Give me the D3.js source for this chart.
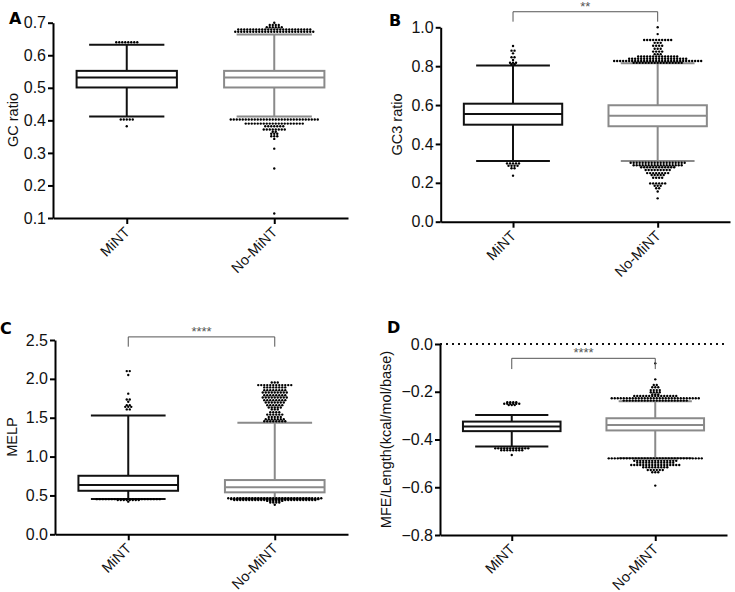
<!DOCTYPE html>
<html>
<head>
<meta charset="utf-8">
<script src="https://cdn.jsdelivr.net/npm/d3@7"></script>
<style>
  html, body { margin: 0; padding: 0; background: #fff; }
  svg text { font-family: "Liberation Sans", Arial, Helvetica, sans-serif; }
  svg text.letter { font-family: "DejaVu Sans", sans-serif; font-weight: 900; }
</style>
</head>
<body>
<svg id="chart" width="735" height="592"></svg>
<script>
// ---------------- DATA ----------------
const groups = ["MiNT", "No-MiNT"];
const panelLetters = ["A", "B", "C", "D"];
const yTitles = ["GC ratio", "GC3 ratio", "MELP", "MFE/Length(kcal/mol/base)"];

const ticksA = [0.1, 0.2, 0.3, 0.4, 0.5, 0.6, 0.7];
const ticksB = [0.0, 0.2, 0.4, 0.6, 0.8, 1.0];
const ticksC = [0.0, 0.5, 1.0, 1.5, 2.0, 2.5];
const ticksD = [-0.8, -0.6, -0.4, -0.2, 0.0];

// box stats: [lower whisker, Q1, median, Q3, upper whisker]
const boxA_MiNT   = [0.412, 0.501, 0.532, 0.552, 0.632];
const boxA_NoMiNT = [0.412, 0.501, 0.532, 0.552, 0.664];
const boxB_MiNT   = [0.312, 0.499, 0.554, 0.607, 0.803];
const boxB_NoMiNT = [0.312, 0.491, 0.545, 0.599, 0.815];
const boxC_MiNT   = [0.454, 0.560, 0.634, 0.753, 1.530];
const boxC_NoMiNT = [0.465, 0.540, 0.604, 0.698, 1.435];
const boxD_MiNT   = [-0.429, -0.365, -0.346, -0.325, -0.297];
const boxD_NoMiNT = [-0.478, -0.362, -0.339, -0.311, -0.240];

// outliers: [value, number of dots at that value]
const outA_MiNT = [[0.640, 8], [0.4025, 5], [0.382, 1]];
const outA_NoMiNT = [[0.700, 1], [0.693, 4], [0.686, 6], [0.679, 25], [0.672, 27],
  [0.4025, 30], [0.390, 20], [0.382, 7], [0.372, 8], [0.365, 2], [0.359, 3], [0.351, 3],
  [0.343, 1], [0.313, 1], [0.252, 1], [0.114, 1]];
const outB_MiNT = [[0.904, 1], [0.880, 2], [0.866, 1], [0.846, 2], [0.832, 1], [0.818, 3], [0.810, 2],
  [0.300, 5], [0.288, 4], [0.275, 2], [0.237, 1]];
const outB_NoMiNT = [[1.000, 1], [0.965, 1], [0.935, 10], [0.920, 3], [0.905, 4], [0.890, 3],
  [0.875, 4], [0.862, 3], [0.850, 14], [0.838, 20], [0.827, 30], [0.818, 17],
  [0.303, 19], [0.290, 17], [0.280, 12], [0.266, 9], [0.250, 8], [0.240, 5], [0.226, 4],
  [0.197, 6], [0.185, 3], [0.172, 2], [0.155, 1], [0.120, 1]];
const outC_MiNT = [[2.100, 2], [2.050, 1], [1.810, 1], [1.735, 2], [1.705, 1], [1.662, 2],
  [1.640, 3], [1.607, 2], [0.452, 22], [0.440, 8], [0.420, 1]];
const outC_NoMiNT = [[1.954, 3], [1.920, 12], [1.890, 8], [1.855, 8], [1.825, 9], [1.790, 8],
  [1.760, 9], [1.726, 8], [1.696, 7], [1.662, 6], [1.632, 5], [1.607, 3], [1.570, 4],
  [1.540, 6], [1.510, 5], [1.480, 7], [1.455, 8],
  [0.463, 32], [0.452, 30], [0.441, 28], [0.430, 6], [0.410, 4], [0.380, 1]];
const outD_MiNT = [[-0.244, 4], [-0.250, 6], [-0.256, 3], [-0.437, 12], [-0.445, 8], [-0.465, 1]];
const outD_NoMiNT = [[-0.081, 1], [-0.148, 1], [-0.172, 2], [-0.181, 3], [-0.193, 4], [-0.202, 4],
  [-0.211, 3], [-0.218, 15], [-0.227, 30], [-0.237, 22],
  [-0.479, 32], [-0.489, 15], [-0.497, 13], [-0.507, 17], [-0.516, 9], [-0.528, 6],
  [-0.537, 3], [-0.593, 1]];

// significance brackets: [bar value, tick-end value, label]  (null = none)
const sigA = null;
const sigB = [1.080, 1.029, "**"];
const sigC = [2.540, 2.414, "****"];
const sigD = [-0.060, -0.105, "****"];

// ---------------- LAYOUT ----------------
const panels = [
  { ticks: ticksA, fmt: ".1f", boxes: [boxA_MiNT, boxA_NoMiNT], outs: [outA_MiNT, outA_NoMiNT], sig: sigA,
    rect: { l: 53, r: 348, t: 22.7, b: 218 }, letter: [9, 24], title: [18, 120], refLine: null },
  { ticks: ticksB, fmt: ".1f", boxes: [boxB_MiNT, boxB_NoMiNT], outs: [outB_MiNT, outB_NoMiNT], sig: sigB,
    rect: { l: 440.7, r: 730, t: 27.3, b: 221.7 }, letter: [389, 26], title: [402, 124.5], refLine: null },
  { ticks: ticksC, fmt: ".1f", boxes: [boxC_MiNT, boxC_NoMiNT], outs: [outC_MiNT, outC_NoMiNT], sig: sigC,
    rect: { l: 55, r: 348, t: 340, b: 534.3 }, letter: [0, 334], title: [17, 437], refLine: null },
  { ticks: ticksD, fmt: ".1f", boxes: [boxD_MiNT, boxD_NoMiNT], outs: [outD_MiNT, outD_NoMiNT], sig: sigD,
    rect: { l: 440, r: 727, t: 344, b: 535 }, letter: [387, 333], title: [391, 439.5], refLine: 0 }
];
const colors = ["#111111", "#8a8a8a"];

const svg = d3.select("#chart");

panels.forEach((p, pi) => {
  const R = p.rect;
  const g = svg.append("g");
  const y = d3.scaleLinear().domain(d3.extent(p.ticks)).range([R.b, R.t]);
  const x = d3.scalePoint().domain(groups).range([R.l, R.r]).padding(0.5);
  const bw = (R.r - R.l) * 0.34;
  const cw = bw * 0.75;
  const dotStep = 3;

  if (p.refLine !== null) {
    g.append("line")
      .attr("x1", R.l).attr("x2", R.r)
      .attr("y1", y(p.refLine)).attr("y2", y(p.refLine))
      .attr("stroke", "#111").attr("stroke-width", 2)
      .attr("stroke-dasharray", "2,4");
  }

  groups.forEach((grp, gi) => {
    const s = p.boxes[gi];
    const cx = x(grp);
    const c = colors[gi];
    const bg = g.append("g").attr("stroke", c).attr("stroke-width", 2).attr("fill", "none");
    bg.append("line").attr("x1", cx).attr("x2", cx).attr("y1", y(s[0])).attr("y2", y(s[1]));
    bg.append("line").attr("x1", cx).attr("x2", cx).attr("y1", y(s[3])).attr("y2", y(s[4]));
    bg.append("line").attr("x1", cx - cw / 2).attr("x2", cx + cw / 2).attr("y1", y(s[0])).attr("y2", y(s[0]));
    bg.append("line").attr("x1", cx - cw / 2).attr("x2", cx + cw / 2).attr("y1", y(s[4])).attr("y2", y(s[4]));
    bg.append("rect").attr("x", cx - bw / 2).attr("width", bw)
      .attr("y", y(s[3])).attr("height", y(s[1]) - y(s[3])).attr("fill", "#fff");
    bg.append("line").attr("x1", cx - bw / 2).attr("x2", cx + bw / 2).attr("y1", y(s[2])).attr("y2", y(s[2]));
  });

  groups.forEach((grp, gi) => {
    const cx = x(grp);
    const dots = [];
    p.outs[gi].forEach(([v, n]) => {
      for (let i = 0; i < n; i++) dots.push({ x: cx + (i - (n - 1) / 2) * dotStep, v });
    });
    g.append("g").selectAll("circle").data(dots).join("circle")
      .attr("cx", d => d.x).attr("cy", d => y(d.v)).attr("r", 1.2).attr("fill", "#000");
  });

  const ya = g.append("g").attr("transform", `translate(${R.l},0)`)
    .call(d3.axisLeft(y).tickValues(p.ticks).tickFormat(d3.format(p.fmt)).tickSize(5).tickSizeOuter(0).tickPadding(2));
  ya.attr("font-family", null);
  ya.select(".domain").attr("stroke", "#000").attr("stroke-width", 2);
  ya.selectAll(".tick line").attr("stroke", "#000").attr("stroke-width", 2);
  ya.selectAll(".tick text").attr("font-size", 16).attr("fill", "#111");

  const xa = g.append("g").attr("transform", `translate(0,${R.b})`)
    .call(d3.axisBottom(x).tickSize(6).tickSizeOuter(0).tickFormat(""));
  xa.select(".domain").attr("stroke", "#000").attr("stroke-width", 2);
  xa.selectAll(".tick line").attr("stroke", "#000").attr("stroke-width", 2);

  groups.forEach(grp => {
    g.append("text")
      .attr("transform", `translate(${x(grp) + 4},${R.b + 15}) rotate(-45)`)
      .attr("text-anchor", "end")
      .attr("font-size", 14.5).attr("fill", "#111").text(grp);
  });

  g.append("text")
    .attr("transform", `translate(${p.title[0]},${p.title[1]}) rotate(-90)`)
    .attr("text-anchor", "middle").attr("font-size", 14.5).attr("fill", "#111")
    .text(yTitles[pi]);

  g.append("text").attr("class", "letter").attr("x", p.letter[0]).attr("y", p.letter[1])
    .attr("font-size", 16).attr("fill", "#000")
    .text(panelLetters[pi]);

  if (p.sig) {
    const [yb, yt, lab] = p.sig;
    const x1 = x(groups[0]), x2 = x(groups[1]);
    g.append("path")
      .attr("d", `M${x1},${y(yt)}V${y(yb)}H${x2}V${y(yt)}`)
      .attr("fill", "none").attr("stroke", "#555").attr("stroke-width", 1);
    g.append("text").attr("x", (x1 + x2) / 2).attr("y", y(yb) - 1)
      .attr("text-anchor", "middle").attr("font-size", 13).attr("fill", "#555")
      .text(lab);
  }
});
</script>
</body>
</html>
